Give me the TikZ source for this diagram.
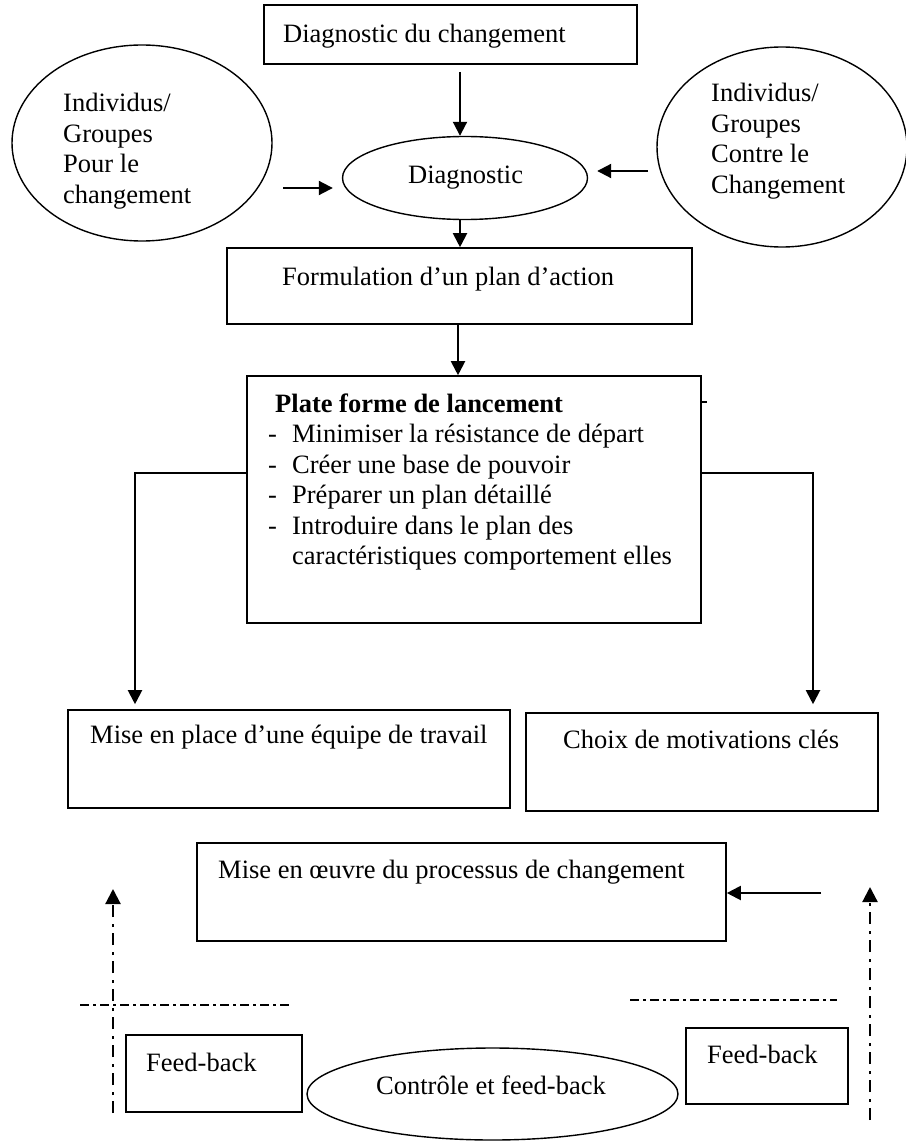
\documentclass[tikz,border=0pt]{standalone}
\usepackage{fontspec}
\setmainfont{Liberation Serif}
\usetikzlibrary{arrows.meta,shapes.geometric,calc}
\newcommand\mylines[1]{\begin{tabular}[t]{@{}l@{}}#1\end{tabular}}
\begin{document}
\begin{tikzpicture}[x=1pt,y=-1pt,
  box/.style={draw, line width=1.6pt, rectangle, inner sep=0pt},
  ell/.style={draw, line width=1.4pt, ellipse, inner sep=0pt},
  txt/.style={inner sep=0pt, anchor=base west, font=\fontsize{26.5}{30.5}\selectfont},
  arr/.style={line width=2pt, -{Triangle[length=14pt,width=14pt]}},
  dd/.style={line width=2pt, dash pattern=on 9pt off 4pt on 3pt off 4pt},
  dda/.style={line width=2.2pt, dash pattern=on 12pt off 6pt on 3pt off 7pt, -{Triangle[length=15pt,width=15pt]}}]
\useasboundingbox (0,0) rectangle (905,1142);

% top
\node[box, minimum width=373pt, minimum height=59pt] (diag) at (450.5,34.5) {};
\node[txt] (tdiag) at (283,43) {Diagnostic du changement};

\node[ell, minimum width=245pt, minimum height=83pt] (dell) at (465,178) {};
\node[txt] (tdell) at (408,183) {Diagnostic};

\node[ell, minimum width=260pt, minimum height=196pt] (pour) at (142,143) {};
\node[txt] (tpour) at (63,112) {\mylines{Individus/\\Groupes\\Pour le\\changement}};

\node[ell, minimum width=250pt, minimum height=200pt] (contre) at (782,147) {};
\node[txt] (tcontre) at (711,102) {\mylines{Individus/\\Groupes\\Contre le\\Changement}};

\node[box, minimum width=465pt, minimum height=76pt] (form) at (459.5,286) {};
\node[txt] (tform) at (282,285) {Formulation d’un plan d’action};

\node[box, minimum width=454pt, minimum height=247pt] (plate) at (474,499.5) {};
\node[txt] (tplate) at (268,412) {\mylines{\hspace{7pt}\textbf{Plate forme de lancement}\\
  \makebox[24pt][l]{-}Minimiser la résistance de départ\\
  \makebox[24pt][l]{-}Créer une base de pouvoir\\
  \makebox[24pt][l]{-}Préparer un plan détaillé\\
  \makebox[24pt][l]{-}Introduire dans le plan des\\
  \hspace{24pt}caractéristiques comportement elles}};

\node[box, minimum width=442pt, minimum height=98pt] (mep) at (289,759) {};
\node[txt] (tmep) at (90,743) {Mise en place d’une équipe de travail};

\node[box, minimum width=352pt, minimum height=98pt] (choix) at (702,762) {};
\node[txt] (tchoix) at (563,748) {Choix de motivations clés};

\node[box, minimum width=529pt, minimum height=98pt] (oeuvre) at (461.5,892) {};
\node[txt] (toeuvre) at (218,878) {Mise en œuvre du processus de changement};

\node[box, minimum width=176pt, minimum height=77pt] (fbl) at (214,1073.5) {};
\node[txt] (tfbl) at (146,1071) {Feed-back};

\node[box, minimum width=162pt, minimum height=76pt] (fbr) at (767,1066) {};
\node[txt] (tfbr) at (707,1063) {Feed-back};

\node[ell, minimum width=371pt, minimum height=92pt] (ctrl) at (492.5,1094) {};
\node[txt] (tctrl) at (376,1094) {Contrôle et feed-back};

% connectors
\coordinate (ax) at (460,0);
\coordinate (bx) at (458,0);
\draw[arr] ($(diag.south -| ax)+(0,7)$) -- (dell.north -| ax);
\draw[arr] (dell.south -| ax) -- (form.north -| ax);
\draw[arr] (form.south -| bx) -- (plate.north -| bx);

\coordinate (la) at (283,188);
\coordinate (ra) at (648,171);
\draw[arr] (la) -- ($(dell.west |- la)+(-9,0)$);
\draw[arr] (ra) -- ($(dell.east |- ra)+(9,0)$);

\coordinate (tk) at (0,402);
\draw[line width=1.2pt] (plate.east |- tk) -- ++(5,0);

\coordinate (lt) at (135,473);
\coordinate (rt) at (813,473);
\draw[arr] (plate.west |- lt) -- (lt) -- ($(lt |- mep.north)+(0,-5)$);
\draw[arr] (plate.east |- rt) -- (rt) -- ($(rt |- choix.north)+(0,-8)$);

\coordinate (oin) at (821,893);
\draw[arr] (oin) -- (oeuvre.east |- oin);

% dash-dot feedback lines
\coordinate (l1) at (113,1113);
\coordinate (l2) at (113,889);
\draw[dda] (l1) -- (l2);
\coordinate (r1) at (870,1120);
\coordinate (r2) at (870,887);
\draw[dda] (r1) -- (r2);
\coordinate (h1) at (80,1005);
\coordinate (h2) at (289,1005);
\draw[dd] (h1) -- (h2);
\coordinate (h3) at (630,1000);
\coordinate (h4) at (837,1000);
\draw[dd] (h3) -- (h4);
\end{tikzpicture}
\end{document}
